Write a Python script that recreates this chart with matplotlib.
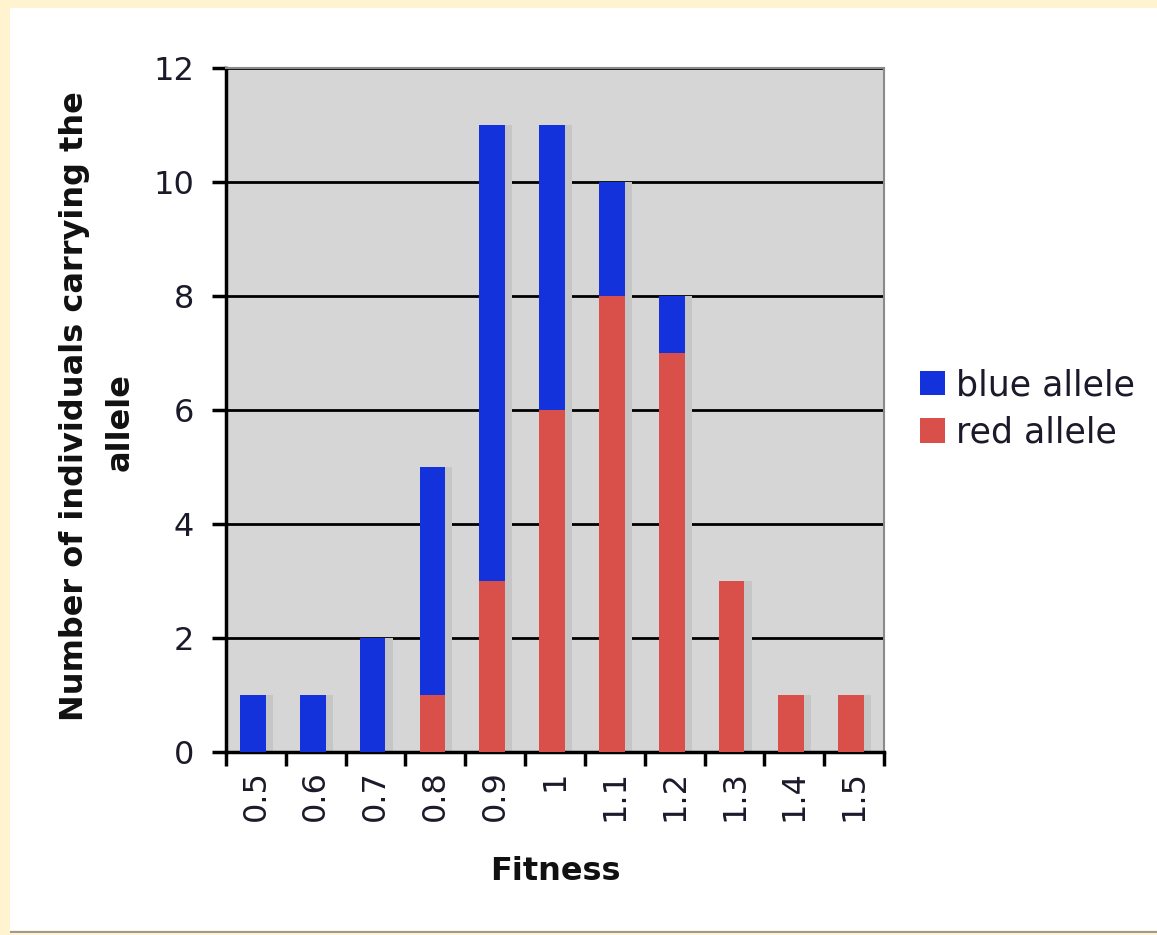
import matplotlib
matplotlib.use("Agg")
import matplotlib.pyplot as plt
from matplotlib.patches import Rectangle
import numpy as np

# Fitness classes and allele counts
fitness = ["0.5", "0.6", "0.7", "0.8", "0.9", "1", "1.1", "1.2", "1.3", "1.4", "1.5"]
red_allele = [0, 0, 0, 1, 3, 6, 8, 7, 3, 1, 1]
blue_allele = [1, 1, 2, 4, 8, 5, 2, 1, 0, 0, 0]
y_ticks = [0, 2, 4, 6, 8, 10, 12]

W, H = 1157, 935
FS = 23
fig = plt.figure(figsize=(W / 100, H / 100), dpi=100)
fig.patch.set_facecolor("#FFF4CF")

# white panel inside the yellow frame
fig.add_artist(Rectangle((10 / W, 5 / H), (W - 10) / W, (H - 13) / H,
                         transform=fig.transFigure, facecolor="white",
                         edgecolor="none", zorder=0))
fig.add_artist(Rectangle((10 / W, 2 / H), (W - 10) / W, 2 / H,
                         transform=fig.transFigure, facecolor="#9a9a9a",
                         edgecolor="none", zorder=0))

left, right, top, bottom = 226, 884, 68, 752
ax = fig.add_axes([left / W, (H - bottom) / H, (right - left) / W, (bottom - top) / H])
ax.set_facecolor("#D6D6D6")

x = np.arange(len(fitness))
bw = 0.43
off = -0.05
red = np.array(red_allele)
blue = np.array(blue_allele)

# soft shadow behind each bar
ax.bar(x + off + 0.12, red + blue, width=bw, color="#C6C6C6", zorder=2)
ax.bar(x + off, red, width=bw, color="#D9504A", zorder=3, label="red allele")
ax.bar(x + off, blue, bottom=red, width=bw, color="#1432DC", zorder=3, label="blue allele")

ax.set_xlim(-0.5, len(fitness) - 0.5)
ax.set_ylim(0, 12)
ax.set_yticks(y_ticks)
ax.yaxis.grid(True, color="black", linewidth=2, zorder=1)
ax.set_axisbelow(True)

ax.set_xticks(x)
ax.set_xticklabels(fitness, rotation=90, fontsize=FS, color="#1a1a2a")
ax.set_xticks(np.arange(-0.5, len(fitness), 1.0), minor=True)
ax.tick_params(axis="x", which="major", length=0, pad=13)
ax.tick_params(axis="x", which="minor", length=10, width=2.5, direction="out", color="black")
ax.tick_params(axis="y", length=10, width=2.5, direction="out", labelsize=FS,
               labelcolor="#1a1a2a", pad=13)

for s in ["left", "bottom"]:
    ax.spines[s].set_color("black")
    ax.spines[s].set_linewidth(2.5)
for s in ["right", "top"]:
    ax.spines[s].set_color("#8a8a8a")
    ax.spines[s].set_linewidth(1.5)

# axis titles
fig.text(555 / W, (H - 880) / H, "Fitness", fontsize=FS, fontweight="bold",
         ha="center", va="baseline", color="#111111")
fig.text(75 / W, (H - 406) / H, "Number of individuals carrying the", fontsize=FS,
         fontweight="bold", rotation=90, ha="center", va="center", color="#111111")
fig.text(120 / W, (H - 422) / H, "allele", fontsize=FS,
         fontweight="bold", rotation=90, ha="center", va="center", color="#111111")

handles, labels = ax.get_legend_handles_labels()
leg = fig.legend(handles[::-1], labels[::-1], loc="center left",
                 bbox_to_anchor=(903 / W, (H - 409) / H), frameon=False,
                 fontsize=25, handlelength=0.72, handleheight=0.72,
                 handletextpad=0.3, labelspacing=0.4, borderpad=0)
for t in leg.get_texts():
    t.set_color("#1a1a2a")

fig.savefig("out.png", dpi=100, facecolor=fig.get_facecolor())
